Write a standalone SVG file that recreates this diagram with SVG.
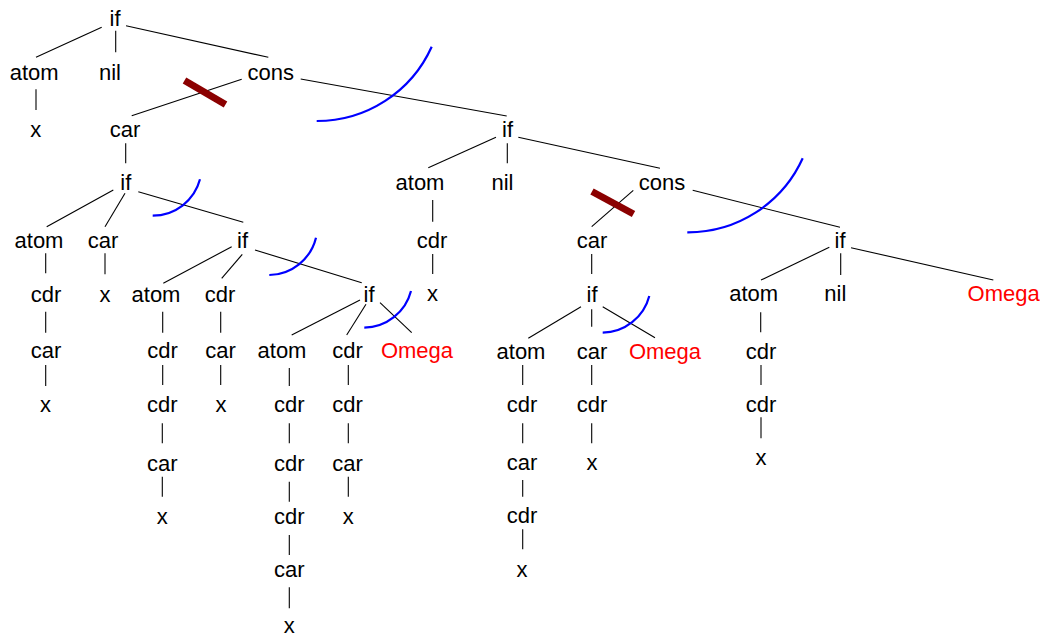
<svg xmlns="http://www.w3.org/2000/svg" width="1045" height="637" viewBox="0 0 1045 637">
  <style>
    text { font-family: "Liberation Sans", Arial, sans-serif; font-size: 22px; text-anchor: middle; fill: #000; }
    text.omega { fill: #ff0000; }
    .edges line { stroke: #000; stroke-width: 1.1; }
    .cut { stroke: #0000ff; stroke-width: 2.2; fill: none; }
    .prune { stroke: #8b0000; stroke-width: 7; stroke-linecap: butt; }
  </style>
  <rect width="1045" height="637" fill="#fff"/>

  <!-- tree edges -->
  <g id="edges" class="edges">
    <line x1="101.7" y1="27.3" x2="36" y2="57.3"/>
    <line x1="115.7" y1="30.7" x2="115.7" y2="52.3"/>
    <line x1="126" y1="25.7" x2="268.3" y2="57.3"/>
    <line x1="36" y1="89.3" x2="36" y2="110"/>
    <line x1="241.7" y1="79.3" x2="131.7" y2="115.7"/>
    <line x1="300.7" y1="79" x2="506.7" y2="116"/>
    <line x1="125.7" y1="143.3" x2="125.7" y2="163.3"/>
    <line x1="496" y1="137.3" x2="428.3" y2="167.7"/>
    <line x1="507.3" y1="143.3" x2="507.3" y2="163.3"/>
    <line x1="518.3" y1="137.3" x2="660" y2="168.3"/>
    <line x1="113.3" y1="190" x2="46.7" y2="226.7"/>
    <line x1="125" y1="193.3" x2="105" y2="226.7"/>
    <line x1="138.3" y1="191.7" x2="243.3" y2="222.3"/>
    <line x1="432.7" y1="200" x2="432.7" y2="221.7"/>
    <line x1="633.3" y1="190.3" x2="591.7" y2="226.7"/>
    <line x1="692.7" y1="190.3" x2="840" y2="227.3"/>
    <line x1="45.7" y1="253.3" x2="45.7" y2="273.3"/>
    <line x1="105" y1="253.3" x2="105" y2="274.3"/>
    <line x1="231.7" y1="246.7" x2="163.3" y2="283.3"/>
    <line x1="242.3" y1="254.3" x2="221.7" y2="278.3"/>
    <line x1="255" y1="250" x2="361.7" y2="282.7"/>
    <line x1="432.7" y1="254" x2="432.7" y2="274"/>
    <line x1="591.7" y1="254" x2="591.7" y2="274"/>
    <line x1="829.3" y1="247.3" x2="761" y2="280"/>
    <line x1="840.7" y1="253.3" x2="840.7" y2="275"/>
    <line x1="851" y1="247.7" x2="993.3" y2="280"/>
    <line x1="45.7" y1="311.7" x2="45.7" y2="332.7"/>
    <line x1="162.7" y1="311.7" x2="162.7" y2="332.7"/>
    <line x1="220.7" y1="311.7" x2="220.7" y2="332.7"/>
    <line x1="360" y1="300" x2="291.7" y2="335"/>
    <line x1="366" y1="304.3" x2="346.7" y2="335"/>
    <line x1="380" y1="302.7" x2="411.7" y2="332.7"/>
    <line x1="581" y1="306.7" x2="528.3" y2="338.3"/>
    <line x1="591.7" y1="309.3" x2="591.7" y2="326.7"/>
    <line x1="602.7" y1="306.7" x2="655" y2="337.7"/>
    <line x1="760.7" y1="312.3" x2="760.7" y2="332.3"/>
    <line x1="45.7" y1="365" x2="45.7" y2="386"/>
    <line x1="162.7" y1="365" x2="162.7" y2="385"/>
    <line x1="220.7" y1="365" x2="220.7" y2="385"/>
    <line x1="289.3" y1="368" x2="289.3" y2="386"/>
    <line x1="348.3" y1="365" x2="348.3" y2="385"/>
    <line x1="522.7" y1="365" x2="522.7" y2="385"/>
    <line x1="591.7" y1="365" x2="591.7" y2="385"/>
    <line x1="761" y1="365" x2="761" y2="385"/>
    <line x1="162.3" y1="423.3" x2="162.3" y2="443.3"/>
    <line x1="289.3" y1="423.3" x2="289.3" y2="443.3"/>
    <line x1="348.3" y1="423.3" x2="348.3" y2="443.3"/>
    <line x1="522.7" y1="423.3" x2="522.7" y2="443.3"/>
    <line x1="591.7" y1="423.3" x2="591.7" y2="443.3"/>
    <line x1="761" y1="417.3" x2="761" y2="438.3"/>
    <line x1="162.3" y1="476.7" x2="162.3" y2="496.7"/>
    <line x1="289.3" y1="481.7" x2="289.3" y2="501.7"/>
    <line x1="348.3" y1="476.7" x2="348.3" y2="496.7"/>
    <line x1="522.7" y1="480" x2="522.7" y2="496.7"/>
    <line x1="289.3" y1="535" x2="289.3" y2="555"/>
    <line x1="522.7" y1="529.3" x2="522.7" y2="549.3"/>
    <line x1="289.3" y1="587.3" x2="289.3" y2="608.3"/>
  </g>

  <!-- cut arcs across edges -->
  <g id="cuts">
    <path class="cut" d="M431.7 46.7 A126 126 0 0 1 316.7 121"/>
    <path class="cut" d="M802.7 158.3 A126 126 0 0 1 687.3 232.3"/>
    <path class="cut" d="M200 179.3 A49 49 0 0 1 152.7 215.7"/>
    <path class="cut" d="M316 237.7 A49 49 0 0 1 269.3 275"/>
    <path class="cut" d="M411 291 A49 49 0 0 1 364.3 327.7"/>
    <path class="cut" d="M649.3 296 A49 49 0 0 1 602.7 332.7"/>
  </g>

  <!-- pruned edges -->
  <g id="prunes">
    <line class="prune" x1="184.5" y1="80.5" x2="225.5" y2="104.5"/>
    <line class="prune" x1="592" y1="191.5" x2="633.5" y2="214"/>
  </g>

  <!-- nodes -->
  <g id="n0"><text x="115" y="26">if</text></g>
  <g id="n1"><text x="34.2" y="80">atom</text></g>
  <g id="n2"><text x="110" y="80">nil</text></g>
  <g id="n3"><text x="270.7" y="80">cons</text></g>
  <g id="n4"><text x="35.7" y="137">x</text></g>
  <g id="n5"><text x="125" y="137">car</text></g>
  <g id="n6"><text x="507.5" y="137">if</text></g>
  <g id="n7"><text x="125.8" y="190">if</text></g>
  <g id="n8"><text x="420" y="190">atom</text></g>
  <g id="n9"><text x="502.5" y="190">nil</text></g>
  <g id="n10"><text x="662" y="190">cons</text></g>
  <g id="n11"><text x="39" y="248">atom</text></g>
  <g id="n12"><text x="103" y="248">car</text></g>
  <g id="n13"><text x="242.5" y="248">if</text></g>
  <g id="n14"><text x="432" y="248">cdr</text></g>
  <g id="n15"><text x="592" y="248">car</text></g>
  <g id="n16"><text x="840" y="248">if</text></g>
  <g id="n17"><text x="46" y="302">cdr</text></g>
  <g id="n18"><text x="105" y="302">x</text></g>
  <g id="n19"><text x="156" y="302">atom</text></g>
  <g id="n20"><text x="220" y="302">cdr</text></g>
  <g id="n21"><text x="369" y="302">if</text></g>
  <g id="n22"><text x="432.5" y="301">x</text></g>
  <g id="n23"><text x="592" y="302">if</text></g>
  <g id="n24"><text x="753.7" y="301">atom</text></g>
  <g id="n25"><text x="835.3" y="301">nil</text></g>
  <g id="n26"><text class="omega" x="1003.7" y="301">Omega</text></g>
  <g id="n27"><text x="46" y="358">car</text></g>
  <g id="n28"><text x="162.5" y="358">cdr</text></g>
  <g id="n29"><text x="220.5" y="358">car</text></g>
  <g id="n30"><text x="282" y="358">atom</text></g>
  <g id="n31"><text x="347.5" y="358">cdr</text></g>
  <g id="n32"><text class="omega" x="417" y="358">Omega</text></g>
  <g id="n33"><text x="521" y="359">atom</text></g>
  <g id="n34"><text x="592" y="359">car</text></g>
  <g id="n35"><text class="omega" x="665" y="359">Omega</text></g>
  <g id="n36"><text x="761" y="359">cdr</text></g>
  <g id="n37"><text x="45.5" y="412">x</text></g>
  <g id="n38"><text x="162.3" y="412">cdr</text></g>
  <g id="n39"><text x="221" y="412">x</text></g>
  <g id="n40"><text x="289.3" y="412">cdr</text></g>
  <g id="n41"><text x="347.5" y="412">cdr</text></g>
  <g id="n42"><text x="522" y="411.7">cdr</text></g>
  <g id="n43"><text x="592" y="411.7">cdr</text></g>
  <g id="n44"><text x="761" y="411.7">cdr</text></g>
  <g id="n45"><text x="162.3" y="470.7">car</text></g>
  <g id="n46"><text x="289.3" y="470.7">cdr</text></g>
  <g id="n47"><text x="347.5" y="470.7">car</text></g>
  <g id="n48"><text x="522" y="470">car</text></g>
  <g id="n49"><text x="592" y="470">x</text></g>
  <g id="n50"><text x="761" y="465">x</text></g>
  <g id="n51"><text x="162.3" y="524">x</text></g>
  <g id="n52"><text x="289.3" y="524">cdr</text></g>
  <g id="n53"><text x="348.3" y="524">x</text></g>
  <g id="n54"><text x="522" y="523.3">cdr</text></g>
  <g id="n55"><text x="289.3" y="576.7">car</text></g>
  <g id="n56"><text x="522" y="576.7">x</text></g>
  <g id="n57"><text x="289.3" y="633">x</text></g>
</svg>
